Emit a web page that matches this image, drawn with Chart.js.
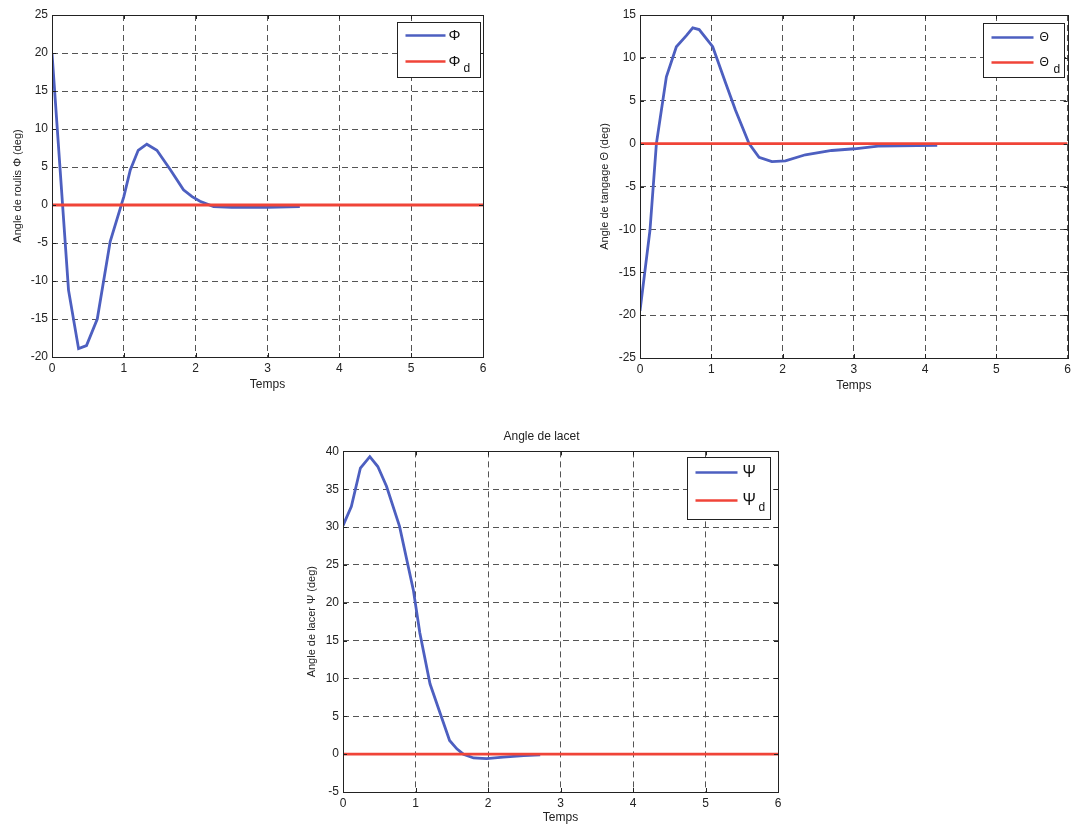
<!DOCTYPE html>
<html>
<head>
<meta charset="utf-8">
<script src="https://cdn.jsdelivr.net/npm/chart.js@4.4.0/dist/chart.umd.min.js"></script>
<style>
body { margin: 0; background: #fff; width: 1075px; height: 832px; position: relative; overflow: hidden; }
canvas { position: absolute; }
</style>
</head>
<body>
<canvas id="roulis" width="500" height="400" style="left:0;top:0"></canvas>
<canvas id="tangage" width="490" height="400" style="left:585px;top:0"></canvas>
<canvas id="lacet" width="500" height="412" style="left:290px;top:420px"></canvas>
<script>
// time axis and ticks
const xTicks = [0, 1, 2, 3, 4, 5, 6];
const refTime = [0, 6];
const refValue = [0, 0];

// roulis (phi)
const tRoulis = [0, 0.23, 0.37, 0.48, 0.63, 0.81, 1.0, 1.09, 1.2, 1.32, 1.46, 1.65, 1.83, 1.95, 2.06, 2.25, 2.5, 3.0, 3.45];
const phi = [20, -11.2, -18.9, -18.5, -15, -4.8, 1.1, 4.6, 7.2, 8.0, 7.2, 4.6, 2.0, 1.1, 0.5, -0.2, -0.3, -0.3, -0.2];
const roulisTicks = [-20, -15, -10, -5, 0, 5, 10, 15, 20, 25];

// tangage (theta)
const tTangage = [0, 0.14, 0.23, 0.37, 0.51, 0.65, 0.74, 0.83, 1.02, 1.2, 1.34, 1.53, 1.67, 1.85, 2.04, 2.32, 2.69, 3.01, 3.34, 4.17];
const theta = [-19.5, -10.1, 0, 7.8, 11.3, 12.6, 13.5, 13.3, 11.3, 7.1, 3.9, 0, -1.6, -2.1, -2.0, -1.3, -0.8, -0.6, -0.3, -0.2];
const tangageTicks = [-25, -20, -15, -10, -5, 0, 5, 10, 15];

// lacet (psi)
const tLacet = [0, 0.115, 0.24, 0.37, 0.48, 0.6, 0.78, 0.97, 1.06, 1.2, 1.34, 1.47, 1.57, 1.66, 1.8, 1.98, 2.21, 2.49, 2.72];
const psi = [30.2, 32.7, 37.8, 39.3, 38, 35.4, 30.1, 21.7, 16, 9.3, 5.4, 1.8, 0.7, 0, -0.5, -0.6, -0.4, -0.2, -0.1];
const lacetTicks = [-5, 0, 5, 10, 15, 20, 25, 30, 35, 40];

const BLUE = '#4d5fc0';
const RED = '#f04438';
const FONT = 'Liberation Sans, Arial, sans-serif';

const toPoints = (xs, ys) => xs.map((x, i) => ({ x: x, y: ys[i] }));

// box around plot + small inward ticks, then the legend box
const matlabFrame = {
    id: 'matlabFrame',
    afterDatasetsDraw(chart, args, opts) {
        const ctx = chart.ctx;
        const a = chart.chartArea;
        const xs = chart.scales.x, ys = chart.scales.y;
        ctx.save();
        ctx.strokeStyle = '#222';
        ctx.lineWidth = 1;
        ctx.setLineDash([]);
        ctx.strokeRect(Math.round(a.left) + 0.5, Math.round(a.top) + 0.5, Math.round(a.right - a.left), Math.round(a.bottom - a.top));
        ctx.beginPath();
        xs.ticks.forEach(t => {
            const px = Math.round(xs.getPixelForValue(t.value)) + 0.5;
            ctx.moveTo(px, a.bottom); ctx.lineTo(px, a.bottom - 4);
            ctx.moveTo(px, a.top); ctx.lineTo(px, a.top + 4);
        });
        ys.ticks.forEach(t => {
            const py = Math.round(ys.getPixelForValue(t.value)) + 0.5;
            ctx.moveTo(a.left, py); ctx.lineTo(a.left + 4, py);
            ctx.moveTo(a.right, py); ctx.lineTo(a.right - 4, py);
        });
        ctx.stroke();

        // legend
        const L = opts.legend;
        const bx = Math.round(a.right - L.inset - L.w) + 0.5;
        const by = Math.round(a.top + L.top) + 0.5;
        ctx.fillStyle = '#fff';
        ctx.fillRect(bx, by, L.w, L.h);
        ctx.strokeStyle = '#222';
        ctx.strokeRect(bx, by, L.w, L.h);
        chart.data.datasets.forEach((ds, i) => {
            const y = by + L.rows[i];
            ctx.strokeStyle = ds.borderColor;
            ctx.lineWidth = 2.5;
            ctx.beginPath();
            ctx.moveTo(bx + L.x0, y); ctx.lineTo(bx + L.x1, y);
            ctx.stroke();
            ctx.fillStyle = '#111';
            ctx.textBaseline = 'middle';
            ctx.textAlign = 'left';
            ctx.font = L.symSize + 'px ' + FONT;
            ctx.fillText(ds.label, bx + L.tx, y);
            if (ds.sub) {
                ctx.font = '12px ' + FONT;
                ctx.fillText(ds.sub, bx + L.sx, y + 7);
            }
        });
        ctx.restore();
    }
};

function makeChart(id, cfg) {
    const tickFont = { family: FONT, size: 12 };
    const labelFont = { family: FONT, size: 11 };
    return new Chart(document.getElementById(id), {
        type: 'line',
        data: {
            datasets: [
                { label: cfg.sym, data: toPoints(cfg.t, cfg.v), borderColor: BLUE, borderWidth: 2.8, order: 1 },
                { label: cfg.sym, sub: 'd', data: toPoints(refTime, refValue), borderColor: RED, borderWidth: 2.8, order: 0 }
            ]
        },
        options: {
            responsive: false,
            animation: false,
            events: [],
            layout: { padding: cfg.pad },
            elements: { point: { radius: 0 }, line: { tension: 0, fill: false } },
            plugins: {
                legend: { display: false },
                tooltip: { enabled: false },
                title: cfg.title ? {
                    display: true, text: cfg.title, color: '#222',
                    font: { family: FONT, size: 12, weight: 'normal' },
                    padding: { top: 9, bottom: 8 }
                } : { display: false },
                matlabFrame: { legend: cfg.legend }
            },
            scales: {
                x: {
                    type: 'linear', min: 0, max: 6,
                    afterBuildTicks: s => { s.ticks = xTicks.map(v => ({ value: v })); },
                    afterFit: s => { s.height = cfg.xh; },
                    ticks: { font: tickFont, color: '#222', padding: 4 },
                    grid: { color: '#555', lineWidth: 1, drawTicks: false },
                    border: { display: false, dash: [6, 4] },
                    title: { display: true, text: 'Temps', color: '#222', font: tickFont, padding: 0 }
                },
                y: {
                    type: 'linear', min: cfg.ticks[0], max: cfg.ticks[cfg.ticks.length - 1],
                    afterBuildTicks: s => { s.ticks = cfg.ticks.map(v => ({ value: v })); },
                    afterFit: s => { s.width = cfg.yw; },
                    ticks: { font: tickFont, color: '#222', padding: 4 },
                    grid: { color: '#555', lineWidth: 1, drawTicks: false },
                    border: { display: false, dash: [6, 4] },
                    title: { display: true, text: cfg.ytitle, color: '#222', font: labelFont, padding: 0 }
                }
            }
        },
        plugins: [matlabFrame]
    });
}

makeChart('roulis', {
    t: tRoulis, v: phi, ticks: roulisTicks, sym: 'Φ',
    ytitle: 'Angle de roulis Φ (deg)',
    pad: { left: 11, top: 15, right: 17, bottom: 8 }, yw: 41, xh: 35,
    legend: { inset: 3, top: 7, w: 83, h: 55, x0: 8, x1: 48, rows: [13, 39], tx: 51, sx: 66, symSize: 15 }
});

makeChart('tangage', {
    t: tTangage, v: theta, ticks: tangageTicks, sym: 'Θ',
    ytitle: 'Angle de tangage Θ (deg)',
    pad: { left: 13, top: 15, right: 3, bottom: 7 }, yw: 42, xh: 35,
    legend: { inset: 4, top: 8, w: 81, h: 54, x0: 8, x1: 50, rows: [14, 39], tx: 56, sx: 70, symSize: 12 }
});

makeChart('lacet', {
    t: tLacet, v: psi, ticks: lacetTicks, sym: 'Ψ', title: 'Angle de lacet',
    ytitle: 'Angle de lacer Ψ (deg)',
    pad: { left: 15, top: 0, right: 12, bottom: 7 }, yw: 38, xh: 33,
    legend: { inset: 8, top: 6, w: 83, h: 62, x0: 8, x1: 50, rows: [15, 43], tx: 55, sx: 71, symSize: 16 }
});
</script>
</body>
</html>
